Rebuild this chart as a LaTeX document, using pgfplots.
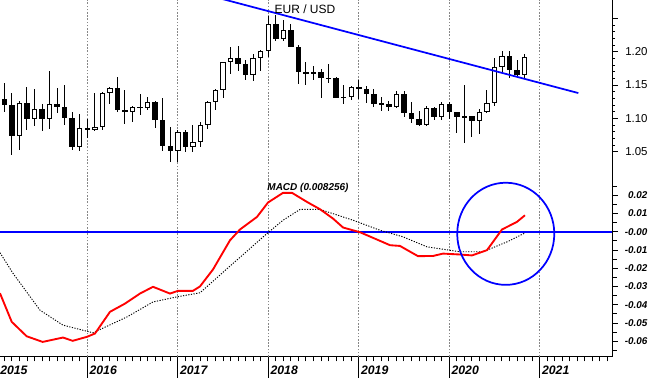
\documentclass[border=0pt]{standalone}
\usepackage{pgfplots}
\pgfplotsset{compat=1.18}
\usepackage{pgfplotstable}
\usepackage{fontspec}
\setmainfont{Liberation Sans}

\pgfplotstableread{
yr m O H L C
2015 1 1.1290 1.1534 1.1098 1.1196
2015 2 1.1196 1.1387 1.0458 1.0731
2015 3 1.0731 1.1260 1.0520 1.1224
2015 4 1.1224 1.1467 1.0819 1.0986
2015 5 1.0986 1.1436 1.0888 1.1147
2015 6 1.1147 1.1215 1.0809 1.0985
2015 7 1.0985 1.1714 1.0848 1.1211
2015 8 1.1211 1.1460 1.1087 1.1177
2015 9 1.1177 1.1495 1.0896 1.1005
2015 10 1.1005 1.1095 1.0524 1.0566
2015 11 1.0566 1.1059 1.0517 1.0862
2016 0 1.0862 1.0986 1.0711 1.0831
2016 1 1.0831 1.1376 1.0809 1.0873
2016 2 1.0873 1.1395 1.0824 1.1380
2016 3 1.1380 1.1464 1.1217 1.1454
2016 4 1.1454 1.1616 1.1098 1.1130
2016 5 1.1130 1.1428 1.0912 1.1103
2016 6 1.1103 1.1186 1.0952 1.1175
2016 7 1.1175 1.1366 1.1046 1.1157
2016 8 1.1157 1.1327 1.1121 1.1240
2016 9 1.1240 1.1258 1.0852 1.0980
2016 10 1.0980 1.1300 1.0506 1.0590
2016 11 1.0590 1.0874 1.0352 1.0517
2017 0 1.0517 1.0829 1.0340 1.0798
2017 1 1.0798 1.0829 1.0495 1.0575
2017 2 1.0575 1.0906 1.0494 1.0652
2017 3 1.0652 1.0951 1.0570 1.0895
2017 4 1.0895 1.1268 1.0839 1.1243
2017 5 1.1243 1.1445 1.1119 1.1425
2017 6 1.1425 1.1847 1.1312 1.1843
2017 7 1.1843 1.2070 1.1662 1.1908
2017 8 1.1908 1.2092 1.1717 1.1813
2017 9 1.1813 1.1880 1.1575 1.1646
2017 10 1.1646 1.1961 1.1554 1.1903
2017 11 1.1903 1.2023 1.1717 1.2005
2018 0 1.2005 1.2537 1.1916 1.2414
2018 1 1.2414 1.2556 1.2155 1.2194
2018 2 1.2194 1.2476 1.2154 1.2324
2018 3 1.2324 1.2414 1.2064 1.2077
2018 4 1.2077 1.2097 1.1510 1.1693
2018 5 1.1693 1.1852 1.1508 1.1684
2018 6 1.1684 1.1791 1.1574 1.1690
2018 7 1.1690 1.1734 1.1301 1.1602
2018 8 1.1602 1.1815 1.1526 1.1604
2018 9 1.1604 1.1624 1.1302 1.1312
2018 10 1.1312 1.1500 1.1216 1.1315
2018 11 1.1315 1.1486 1.1269 1.1466
2019 0 1.1466 1.1570 1.1289 1.1448
2019 1 1.1448 1.1489 1.1234 1.1370
2019 2 1.1370 1.1448 1.1176 1.1218
2019 3 1.1218 1.1324 1.1111 1.1215
2019 4 1.1215 1.1265 1.1107 1.1167
2019 5 1.1167 1.1412 1.1160 1.1370
2019 6 1.1370 1.1412 1.1028 1.1075
2019 7 1.1075 1.1250 1.0926 1.0986
2019 8 1.0986 1.1109 1.0879 1.0899
2019 9 1.0899 1.1180 1.0879 1.1151
2019 10 1.1151 1.1176 1.0981 1.1017
2019 11 1.1017 1.1239 1.0981 1.1213
2020 0 1.1213 1.1239 1.0992 1.1093
2020 1 1.1093 1.1096 1.0778 1.1027
2020 2 1.1027 1.1495 1.0636 1.1030
2020 3 1.1030 1.1040 1.0727 1.0955
2020 4 1.0955 1.1147 1.0767 1.1100
2020 5 1.1100 1.1422 1.1076 1.1234
2020 6 1.1234 1.1909 1.1185 1.1777
2020 7 1.1777 1.2011 1.1696 1.1937
2020 8 1.1937 1.2011 1.1612 1.1721
2020 9 1.1721 1.1881 1.1622 1.1647
2020 10 1.1647 1.1961 1.1603 1.1927
}\candles

\definecolor{gridgray}{RGB}{135,135,135}
\tikzset{yeargrid/.style={dash pattern=on 1.2pt off 1.2pt, gridgray, line width=0.9pt}}

\begin{document}
\begin{tikzpicture}
\path[use as bounding box] (0pt,0pt) rectangle (487.5pt,283.5pt);
% ---------------- upper panel: EUR/USD candles ----------------
\begin{axis}[
  at={(0pt,148.5pt)}, anchor=south west,
  width=459pt, height=135pt, scale only axis,
  xmin=2015.0354, xmax=2021.798, ymin=1.0076, ymax=1.2776,
  axis y line*=right, axis x line*=bottom,
  x axis line style={draw=none},
  y axis line style={line width=0.75pt, black},
  xtick=\empty,
  scaled y ticks=false,
  ytick={1.05,1.10,1.15,1.20,1.25}, yticklabels={1.05,1.10,1.15,1.20,{}},
  minor y tick num=4,
  tick align=outside, major tick length=4.5pt, minor tick length=2.4pt,
  tick style={line width=0.6pt, black},
  yticklabel style={font=\fontsize{8.6}{9}\selectfont, inner sep=0pt, anchor=west, xshift=5.25pt},
]
% year grid lines
\addplot[yeargrid, forget plot] coordinates {(2016,1.0076) (2016,1.2776)};
\addplot[yeargrid, forget plot] coordinates {(2017,1.0076) (2017,1.2776)};
\addplot[yeargrid, forget plot] coordinates {(2018,1.0076) (2018,1.2776)};
\addplot[yeargrid, forget plot] coordinates {(2019,1.0076) (2019,1.2776)};
\addplot[yeargrid, forget plot] coordinates {(2020,1.0076) (2020,1.2776)};
\addplot[yeargrid, forget plot] coordinates {(2021,1.0076) (2021,1.2776)};
% wicks
\addplot[draw=none, mark=none, forget plot,
  error bars/.cd, y dir=both, y explicit, error mark=none,
  error bar style={draw=black, line width=0.75pt, solid}]
  table[x expr=\thisrow{yr}+\thisrow{m}/12, y expr=(\thisrow{H}+\thisrow{L})/2,
        y error expr=(\thisrow{H}-\thisrow{L})/2] {\candles};
% body outlines / black bodies
\addplot[draw=none, mark=none, forget plot,
  error bars/.cd, y dir=both, y explicit, error mark=none,
  error bar style={draw=black, line width=4.1pt, solid}]
  table[x expr=\thisrow{yr}+\thisrow{m}/12, y expr=(\thisrow{O}+\thisrow{C})/2,
        y error expr={max(abs(\thisrow{O}-\thisrow{C})/2,0.0008)}] {\candles};
% white bodies (inner)
\addplot[draw=none, mark=none, forget plot,
  error bars/.cd, y dir=both, y explicit, error mark=none,
  error bar style={draw=white, line width=2.6pt, solid}]
  table[x expr=\thisrow{yr}+\thisrow{m}/12, y expr=(\thisrow{O}+\thisrow{C})/2,
        y error expr={max(max(\thisrow{C}-\thisrow{O},0)/2-0.0015,0)}] {\candles};
% trend line
\addplot[blue, line width=1.3pt] coordinates {(2017.40,1.2824) (2021.426,1.1380)};
\end{axis}
% ---------------- lower panel: MACD ----------------
\begin{axis}[
  at={(0pt,15.975pt)}, anchor=south west,
  width=459pt, height=132.525pt, scale only axis,
  xmin=2015.0354, xmax=2021.798, ymin=-0.0685, ymax=0.02833,
  axis y line*=right, axis x line*=bottom,
  axis line style={line width=0.75pt, black},
  xtick={2016,2017,2018,2019,2020,2021}, xticklabels={},
  minor xtick={2015.0833333,2015.1666667,...,2021.75},
  extra x ticks={2016,2017,2018,2019,2020,2021},
  extra x tick labels={2016,2017,2018,2019,2020,2021},
  extra x tick style={grid=major, major tick length=15.75pt},
  grid style={yeargrid},
  xticklabel style={font=\bfseries\itshape\fontsize{9.2}{10}\selectfont, inner sep=0pt, anchor=north west, xshift=1.5pt, yshift=9pt},
  scaled y ticks=false,
  ytick={-0.06,-0.05,-0.04,-0.03,-0.02,-0.01,0,0.01,0.02},
  yticklabels={-0.06,-0.05,-0.04,-0.03,-0.02,-0.01,-0.00,0.01,0.02},
  minor ytick={-0.065,-0.055,-0.045,-0.035,-0.025,-0.015,-0.005,0.005,0.015,0.025},
  tick align=outside, major tick length=4.5pt, minor tick length=3.6pt,
  tick style={line width=0.6pt, black},
  yticklabel style={font=\bfseries\itshape\fontsize{7.4}{8}\selectfont, inner sep=0pt, anchor=west, text width=18pt, align=right, xshift=3.75pt},
]
\addplot[blue, line width=1.3pt] coordinates {(2015.0354,0) (2021.798,0)};
\addplot[black, dash pattern=on 0.9pt off 1.1pt, line width=0.7pt] coordinates {
(2015.035,-0.0115) (2015.179,-0.0228) (2015.477,-0.0430) (2015.731,-0.0512)
(2016.063,-0.0554) (2016.439,-0.0467) (2016.726,-0.0385) (2016.991,-0.0357)
(2017.245,-0.0335) (2017.610,-0.0174) (2017.986,-0.0010) (2018.163,0.0063)
(2018.351,0.0122) (2018.572,0.0122) (2018.936,0.0063) (2019.234,0.0008)
(2019.488,-0.0028) (2019.754,-0.0083) (2020.118,-0.0110) (2020.372,-0.0110)
(2020.637,-0.0056) (2020.836,-0.0007)};
\addplot[red, line width=1.4pt] coordinates {
(2015.035,-0.0337) (2015.165,-0.0494) (2015.330,-0.0573) (2015.507,-0.0604)
(2015.731,-0.0580) (2015.839,-0.0598) (2015.997,-0.0576) (2016.085,-0.0558)
(2016.251,-0.0439) (2016.417,-0.0394) (2016.582,-0.0339) (2016.726,-0.0302)
(2016.914,-0.0339) (2017.002,-0.0324) (2017.168,-0.0324) (2017.245,-0.0300)
(2017.389,-0.0207) (2017.577,-0.0047) (2017.687,0.0012) (2017.875,0.0081)
(2017.997,0.0160) (2018.163,0.0213) (2018.262,0.0213) (2018.428,0.0163)
(2018.572,0.0123) (2018.715,0.0072) (2018.826,0.0023) (2019.013,-0.0003)
(2019.201,-0.0043) (2019.345,-0.0074) (2019.455,-0.0078) (2019.654,-0.0134)
(2019.820,-0.0133) (2019.931,-0.0120) (2020.118,-0.0125) (2020.251,-0.0130)
(2020.417,-0.0101) (2020.582,0.0012) (2020.748,0.0054) (2020.836,0.0090)};
\draw[blue, line width=1.3pt] (axis cs:2020.624,-0.00115) ellipse [x radius=36.4pt, y radius=38.3pt];
\end{axis}
% texts
\node[anchor=base, inner sep=0pt, font=\fontsize{9}{10}\selectfont] at (228.75pt,273.5pt) {EUR / USD};
\node[anchor=base, inner sep=0pt, font=\bfseries\itshape\fontsize{7.5}{8}\selectfont] at (231pt,140.25pt) {MACD (0.008256)};
\node[anchor=north west, inner sep=0pt, font=\bfseries\itshape\fontsize{9.2}{10}\selectfont] at (0pt,9pt) {2015};
\end{tikzpicture}
\end{document}
